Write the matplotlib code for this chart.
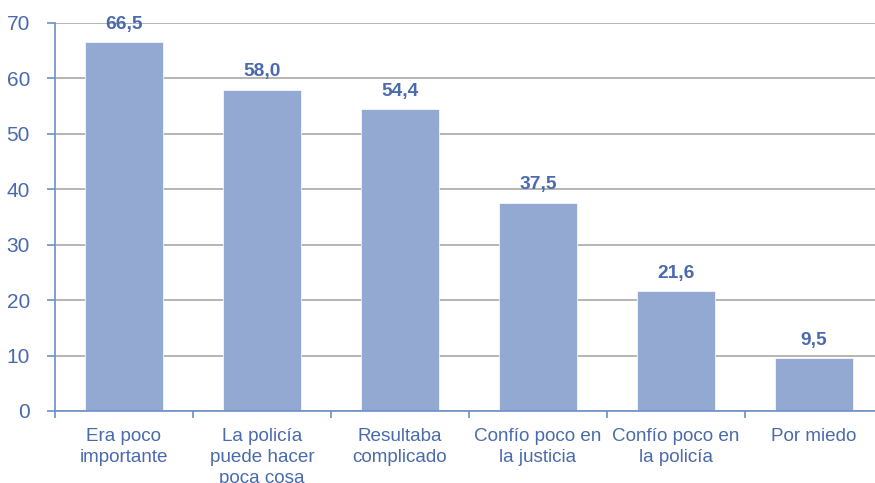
import numpy as np
import matplotlib.pyplot as plt

plt.rcParams["font.family"] = ["Liberation Sans", "DejaVu Sans"]

categories = [
    "Era poco\nimportante",
    "La policía\npuede hacer\npoca cosa",
    "Resultaba\ncomplicado",
    "Confío poco en\nla justicia",
    "Confío poco en\nla policía",
    "Por miedo",
]
values = [66.5, 58.0, 54.4, 37.5, 21.6, 9.5]
yticks = [0, 10, 20, 30, 40, 50, 60, 70]

text_blue = "#4a6aae"
bar_color = "#94a9d1"
axis_blue = "#6d8fc8"
grid_gray = "#a8a8a8"

W, H = 875, 483
fig = plt.figure(figsize=(W / 100, H / 100), dpi=100)
# plot area: x from 55 to 883 px (right side cropped), y from 23 to 411 px
ax = fig.add_axes([55 / W, (H - 411) / H, 828 / W, (411 - 23) / H])

x = np.arange(len(categories))
ax.bar(x, values, width=0.57, color=bar_color, edgecolor="white", linewidth=0.5, zorder=3)

for xi, v in zip(x, values):
    ax.annotate(f"{v:.1f}".replace(".", ","), (xi, v), xytext=(0, 7),
                textcoords="offset points", ha="center", va="bottom",
                fontsize=13.8, fontweight="bold", color=text_blue, zorder=4)

ax.set_xlim(-0.5, len(categories) - 0.5)
ax.set_ylim(0, 70)
ax.set_yticks(yticks)
ax.set_yticklabels([str(t) for t in yticks])
ax.yaxis.grid(True, color=grid_gray, linewidth=1.2, zorder=0)
ax.set_axisbelow(True)

ax.set_xticks(x)
ax.set_xticklabels(categories, linespacing=1.32)
ax.set_xticks(np.arange(-0.5, len(categories), 1.0), minor=True)
ax.tick_params(axis="x", which="major", length=0, pad=12, labelsize=13.6, labelcolor=text_blue)
ax.tick_params(axis="x", which="minor", length=5, width=1.2, color=axis_blue, direction="out")
ax.tick_params(axis="y", length=6, width=1.2, color=axis_blue, pad=12, labelsize=15,
               labelcolor=text_blue)

for side in ["top", "right"]:
    ax.spines[side].set_visible(False)
for side in ["left", "bottom"]:
    ax.spines[side].set_color(axis_blue)
    ax.spines[side].set_linewidth(1.2)
    ax.spines[side].set_zorder(5)

fig.savefig("out.png", dpi=100)
